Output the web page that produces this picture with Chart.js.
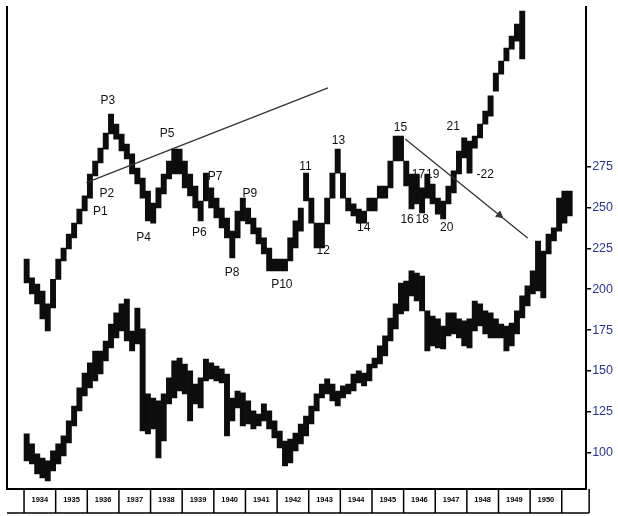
<!DOCTYPE html>
<html><head><meta charset="utf-8">
<script src="https://cdn.jsdelivr.net/npm/chart.js@4.4.0/dist/chart.umd.min.js"></script>
<style>html,body{margin:0;padding:0;background:#fff;}#wrap{width:618px;height:516px;position:relative;}</style>
</head><body><div id="wrap"><canvas id="c"></canvas></div>
<script>
const startYear = 1934;
const periodsPerYear = 6;
const years = ['1934','1935','1936','1937','1938','1939','1940','1941','1942','1943','1944','1945','1946','1947','1948','1949','1950'];
const yTicks = [100,125,150,175,200,225,250,275];

const upperHigh = [218.5,206.9,203.2,198.9,191.0,206.0,218.5,225.2,233.8,240.5,
249.1,257.1,270.5,278.5,286.4,295.6,307.2,301.1,295.0,288.9,
282.8,274.2,268.1,260.1,252.8,262.0,270.5,278.5,285.8,285.8,
278.5,270.5,263.2,254.0,271.1,262.0,255.8,249.7,243.6,235.6,
247.9,255.8,249.7,243.6,237.5,231.4,225.2,218.5,218.5,218.5,
231.4,241.8,249.7,271.1,255.8,240.5,240.5,255.8,271.1,285.8,
271.1,255.8,252.2,249.1,247.9,255.8,255.8,263.2,263.2,278.5,
293.8,293.8,278.5,270.5,270.5,262.0,270.5,264.4,255.8,254.0,
263.2,272.4,284.6,292.6,290.7,293.8,301.1,309.1,318.3,332.3,
339.7,347.6,355.0,362.3,370.3,null,null,null,null,null,null,null,null,null];
const upperLow = [203.8,197.1,191.0,181.8,174.4,188.5,206.0,217.3,224.6,231.4,
239.9,247.9,255.8,269.3,277.3,285.8,295.0,291.9,284.6,279.7,
270.5,264.4,255.8,241.8,240.5,249.7,258.3,267.5,270.5,270.5,
262.0,257.1,249.7,241.8,254.0,249.7,243.6,237.5,231.4,219.1,
231.4,241.8,239.9,233.8,227.7,221.6,211.2,211.2,211.2,211.2,
217.3,225.2,235.6,254.0,240.5,225.2,225.2,239.9,255.8,271.1,
255.8,247.9,244.8,240.5,240.5,247.9,247.9,255.8,255.8,262.0,
278.5,278.5,263.2,249.1,252.2,246.7,255.8,252.2,246.0,243.0,
252.2,258.9,270.5,280.3,271.1,286.4,292.6,301.1,306.0,321.3,
331.7,339.7,347.0,351.9,340.9,null,null,null,null,null,null,null,null,null];

const lowerHigh = [111.4,105.3,99.2,96.7,94.9,101.0,105.3,110.2,119.4,128.5,
139.6,148.7,154.9,162.2,162.2,168.3,178.7,185.5,191.0,194.0,
174.4,188.5,175.7,135.9,133.4,131.6,135.9,145.7,156.1,157.9,
154.2,150.0,142.0,145.7,157.3,154.9,153.0,151.2,148.1,133.4,
137.7,136.5,131.6,125.5,123.6,129.8,125.5,119.4,113.2,107.1,
108.3,112.0,117.5,122.4,128.5,135.9,142.0,145.1,142.0,137.7,
140.8,142.0,148.1,150.0,148.7,154.2,157.9,165.3,171.4,182.4,
191.0,203.8,205.0,211.2,209.9,208.1,186.7,183.6,181.8,177.5,
185.5,185.5,181.8,180.6,181.8,192.8,191.0,186.7,185.5,181.8,
178.7,177.5,179.3,186.7,195.9,202.0,211.2,229.5,223.4,233.8,
237.5,255.8,260.1,260.1];
const lowerLow = [94.9,93.0,86.9,84.5,82.6,88.8,93.0,97.9,105.9,116.3,
125.5,134.7,139.6,143.8,148.1,156.1,164.0,170.2,174.4,168.3,
162.2,166.5,113.2,111.4,114.5,96.7,107.1,129.8,133.4,137.7,
135.9,119.4,129.8,127.3,143.8,145.1,143.8,142.6,110.2,119.4,
127.3,116.3,117.5,114.5,116.3,119.4,114.5,109.0,102.8,91.8,
93.7,101.0,105.3,110.2,117.5,125.5,133.4,135.9,131.6,128.5,
133.4,135.9,137.7,142.6,140.8,143.8,151.8,154.2,159.1,168.3,
175.7,184.8,186.7,195.9,192.8,186.7,162.2,165.3,164.0,163.4,
171.4,172.6,170.2,165.3,164.0,174.4,177.5,172.6,170.2,170.2,
170.2,162.2,165.3,172.6,182.4,189.7,197.1,198.9,194.6,221.6,
229.5,235.6,240.5,244.8];

const trendUp = [{x:1935.97,y:265.2},{x:1943.61,y:323.2}];
const trendDown = [{x:1946.05,y:291.9},{x:1949.92,y:231.4}];
const arrowHead = [{x:1949.03,y:245.4}];

const noteText = ['P1','P2','P3','P4','P5','P6','P7','P8','P9','P10','11','12','13','14','15','16','17','18','19','20','21','-22'];
const noteYear = [1936.41,1936.62,1936.65,1937.78,1938.52,1939.54,1940.04,1940.58,1941.14,1942.15,1942.90,1943.46,1943.94,1944.74,1945.90,1946.11,1946.47,1946.59,1946.92,1947.36,1947.57,1948.58];
const noteValue = [247.3,258.3,315.2,231.4,295.0,234.4,268.7,209.9,258.3,202.6,274.8,223.4,290.7,237.5,298.7,242.4,269.9,242.4,269.9,237.5,299.3,269.9];

const xMax = startYear + 579/33.6;
const yMin = 77.7, yMax = 372.6;

const px = i => startYear + (i + 0.5) / periodsPerYear;
const upperData = upperHigh.map((h,i) => h == null ? null : {x: px(i), y: [upperLow[i], h]}).filter(d => d);
const lowerData = lowerHigh.map((h,i) => ({x: px(i), y: [lowerLow[i], h]}));

const notesPlugin = {
  id: 'notes',
  afterDatasetsDraw(chart) {
    const {ctx, scales: {x, y}} = chart;
    ctx.save();
    ctx.font = '12px "Liberation Sans Narrow", "Liberation Sans"';
    ctx.fillStyle = '#111';
    ctx.textAlign = 'center';
    ctx.textBaseline = 'middle';
    noteText.forEach((t, i) => ctx.fillText(t, x.getPixelForValue(noteYear[i]), y.getPixelForValue(noteValue[i])));
    ctx.restore();
  }
};

const stripPlugin = {
  id: 'yearStrip',
  afterDraw(chart) {
    const {ctx, scales: {x}, chartArea} = chart;
    const top = chartArea.bottom, bottom = chartArea.bottom + 24;
    ctx.save();
    ctx.strokeStyle = '#000';
    ctx.lineWidth = 1.5;
    ctx.beginPath();
    ctx.moveTo(chartArea.left, bottom); ctx.lineTo(chartArea.right + 3, bottom);
    for (let k = 0; k <= years.length; k++) {
      const p = x.getPixelForValue(startYear + k);
      ctx.moveTo(p, top); ctx.lineTo(p, bottom);
    }
    ctx.moveTo(chartArea.right + 3, top); ctx.lineTo(chartArea.right + 3, bottom);
    ctx.stroke();
    ctx.restore();
  }
};

new Chart(document.getElementById('c'), {
  type: 'bar',
  data: {
    datasets: [
      {type:'line', data: trendUp, borderColor:'#333', borderWidth:1.3, pointRadius:0, order:-1},
      {type:'line', data: trendDown, borderColor:'#333', borderWidth:1.3, pointRadius:0, order:-1},
      {type:'line', data: arrowHead, showLine:false, pointStyle:'triangle', rotation:127, pointRadius:4, backgroundColor:'#333', borderColor:'#333', order:-1},
      {data: upperData, backgroundColor:'#0d0d0d', grouped:false, barPercentage:1, categoryPercentage:1},
      {data: lowerData, backgroundColor:'#0d0d0d', grouped:false, barPercentage:1, categoryPercentage:1}
    ]
  },
  options: {
    responsive: true, maintainAspectRatio: false, animation: false,
    layout: {padding: {left: 7, right: 4, top: 0, bottom: 6}},
    plugins: {legend: {display: false}, tooltip: {enabled: false}},
    scales: {
      x: {
        type: 'linear', position: 'bottom', min: startYear, max: xMax,
        afterBuildTicks: s => { s.ticks = years.map((y, k) => ({value: startYear + k + 0.5})); },
        ticks: {autoSkip: false, maxRotation: 0, padding: 6, color: '#000',
          font: {size: 7.5, weight: 'bold', family: 'Liberation Sans', lineHeight: 1.2},
          callback: v => years[Math.floor(v - startYear)]},
        grid: {display: false, drawTicks: false},
        border: {display: true, color: '#000', width: 2}
      },
      y: {
        type: 'linear', position: 'right', min: yMin, max: yMax,
        afterBuildTicks: s => { s.ticks = yTicks.map(v => ({value: v})); },
        ticks: {color: '#2a3590', padding: 1, font: {size: 12.5, family: 'Liberation Sans', lineHeight: 1}, callback: v => String(v)},
        grid: {drawOnChartArea: false, drawTicks: true, tickLength: 5, color: '#000', lineWidth: 1.5},
        border: {display: true, color: '#000', width: 2}
      },
      yl: {
        type: 'linear', position: 'left', min: 0, max: 1,
        ticks: {display: false}, grid: {display: false, drawTicks: false},
        border: {display: true, color: '#000', width: 2}
      }
    }
  },
  plugins: [notesPlugin, stripPlugin]
});
</script></body></html>
